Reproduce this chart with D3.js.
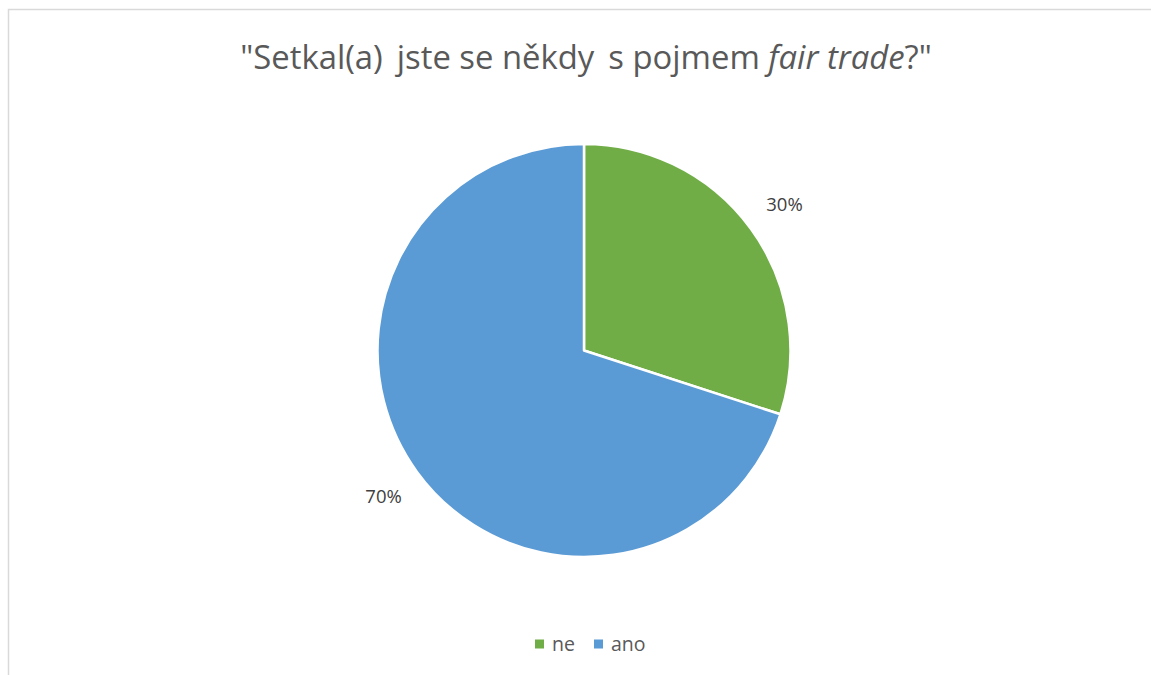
<!DOCTYPE html>
<html><head><meta charset="utf-8">
<script src="https://cdn.jsdelivr.net/npm/d3@7"></script>
<style>html,body{margin:0;padding:0;background:#fff;}</style>
</head><body>
<svg id="c" width="1151" height="675"></svg>
<script>
const categories = ["ne", "ano"];
const values = [30, 70];
const labels = ["30%", "70%"];
const colors = ["#70AD47", "#5B9BD5"];

const W = 1151, H = 675;
const svg = d3.select("#c");
svg.append("rect").attr("x", 8.5).attr("y", 9.5).attr("width", W).attr("height", H)
  .attr("fill", "#fff").attr("stroke", "#d9d9d9").attr("stroke-width", 1.5);

// title
const title = svg.append("text").attr("x", 586).attr("y", 69).attr("text-anchor", "middle")
  .attr("font-family", "'Open Sans', sans-serif").attr("font-size", 28).attr("fill", "#595959");
title.append("tspan").text('"Setkal(a) \u2009jste se někdy \u2009s pojmem ');
title.append("tspan").attr("font-style", "italic").text("fair trade");
title.append("tspan").text('?"');
const tw = title.node().getComputedTextLength();
title.attr("font-size", 28 * 692 / tw);

const cx = 584, cy = 350.5, r = 206.5;
const pie = d3.pie().sort(null).value(d => d)(values);
const arc = d3.arc().innerRadius(0).outerRadius(r);
const g = svg.append("g").attr("transform", `translate(${cx},${cy})`);
g.selectAll("path").data(pie).join("path")
  .attr("d", arc).attr("fill", (d, i) => colors[i])
  .attr("stroke", "#fff").attr("stroke-width", 2.5).attr("stroke-linejoin", "round");

const labelArc = d3.arc().innerRadius(r * 1.2).outerRadius(r * 1.2);
g.selectAll("text.lbl").data(pie).join("text").attr("class", "lbl")
  .attr("x", d => labelArc.centroid(d)[0]).attr("y", d => labelArc.centroid(d)[1])
  .attr("dy", "0.35em").attr("text-anchor", "middle")
  .attr("font-family", "'Open Sans', sans-serif").attr("font-size", 18.5).attr("fill", "#404040")
  .text((d, i) => labels[i]);

// legend
const legend = svg.append("g").attr("transform", "translate(535,644)");
const lx = [0, 59];
categories.forEach((c, i) => {
  legend.append("rect").attr("x", lx[i]).attr("y", -4.5).attr("width", 9).attr("height", 9).attr("fill", colors[i]);
  legend.append("text").attr("x", lx[i] + 17).attr("y", 0).attr("dy", "0.35em")
    .attr("font-family", "'Open Sans', sans-serif").attr("font-size", 19.5).attr("fill", "#595959").text(c);
});
</script>
</body></html>
